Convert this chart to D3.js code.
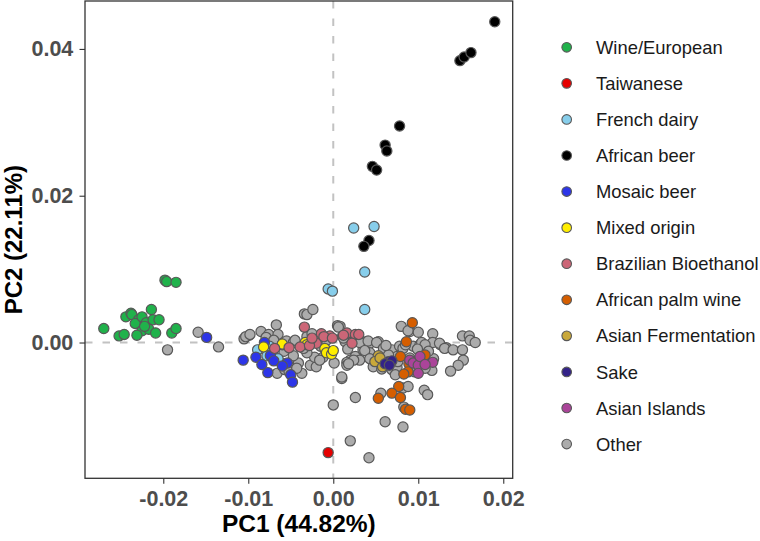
<!DOCTYPE html>
<html><head><meta charset="utf-8">
<script src="https://cdn.jsdelivr.net/npm/d3@7"></script>
<style>body{margin:0;background:#fff}</style></head>
<body><svg id="c" width="760" height="541"></svg>
<script>
// ---- categories / colours ----
const categories = ["Wine/European","Taiwanese","French dairy","African beer","Mosaic beer","Mixed origin","Brazilian Bioethanol","African palm wine","Asian Fermentation","Sake","Asian Islands","Other"];
const categoryColors = ["#20b24b","#e60000","#87ceeb","#000000","#2d35e8","#ffee00","#cc6677","#d55e00","#c9a83a","#332288","#aa4499","#acacac"];
const xTicks = [-0.02,-0.01,0.00,0.01,0.02];
const yTicks = [0.00,0.02,0.04];
const xTitle = "PC1 (44.82%)";
const yTitle = "PC2 (22.11%)";

// ---- series values [PC1, PC2] ----
const wineEuropean = [[-0.0198,0.0085],[-0.0196,0.0083],[-0.0185,0.0082],[-0.0270,0.0019],[-0.0252,0.0009],[-0.0246,0.0011],[-0.0244,0.0035],[-0.0238,0.0040],[-0.0237,0.0038],[-0.0214,0.0045],[-0.0229,0.0031],[-0.0233,0.0026],[-0.0225,0.0035],[-0.0220,0.0027],[-0.0212,0.0031],[-0.0205,0.0031],[-0.0225,0.0016],[-0.0217,0.0018],[-0.0231,0.0010],[-0.0209,0.0013],[-0.0190,0.0013],[-0.0185,0.0019],[-0.0222,0.0022]];
const taiwanese = [[-0.0006,-0.0150]];
const frenchDairy = [[0.0024,0.0156],[0.0048,0.0158],[0.0037,0.0096],[-0.0006,0.0073],[-0.0001,0.0070],[0.0037,0.0045],[-0.0089,-0.0010],[-0.0075,-0.0005],[-0.0065,-0.0022],[-0.0060,-0.0003],[-0.0078,-0.0018]];
const africanBeer = [[0.0190,0.0437],[0.0149,0.0384],[0.0154,0.0389],[0.0162,0.0395],[0.0078,0.0295],[0.0061,0.0269],[0.0063,0.0261],[0.0046,0.0240],[0.0051,0.0235],[0.0042,0.0139],[0.0036,0.0131]];
const mosaicBeer = [[-0.0149,0.0007],[-0.0106,-0.0024],[-0.0091,-0.0020],[-0.0084,-0.0030],[-0.0081,0.0000],[-0.0074,-0.0018],[-0.0077,-0.0041],[-0.0054,-0.0028],[-0.0050,-0.0044],[-0.0048,-0.0054],[-0.0070,-0.0025],[-0.0060,-0.0032]];
const mixedOrigin = [[-0.0033,0.0000],[-0.0031,-0.0003],[-0.0010,-0.0008],[-0.0008,-0.0014],[-0.0002,-0.0016],[0.0000,-0.0011],[-0.0082,-0.0006],[-0.0060,-0.0002]];
const brazilianBioethanol = [[-0.0034,0.0021],[-0.0014,0.0012],[-0.0004,0.0009],[-0.0020,-0.0001],[-0.0069,-0.0008],[-0.0052,-0.0007],[-0.0039,-0.0006],[-0.0028,-0.0004],[0.0016,0.0013],[0.0026,0.0011],[0.0030,0.0011],[0.0022,-0.0001],[-0.0011,0.0008],[-0.0001,0.0006],[0.0012,0.0010],[-0.0025,0.0006]];
const africanPalmWine = [[0.0093,0.0027],[0.0086,0.0001],[0.0079,-0.0019],[0.0089,-0.0029],[0.0088,-0.0040],[0.0108,-0.0017],[0.0077,-0.0060],[0.0069,-0.0069],[0.0079,-0.0075],[0.0053,-0.0076],[0.0085,-0.0091],[0.0090,-0.0092],[0.0083,-0.0043]];
const asianFermentation = [[0.0053,-0.0018],[0.0049,-0.0026],[0.0058,-0.0033],[0.0055,-0.0021]];
const sake = [[0.0065,-0.0026],[0.0061,-0.0029],[0.0069,-0.0025],[0.0066,-0.0031]];
const asianIslands = [[0.0090,-0.0024],[0.0094,-0.0028],[0.0100,-0.0031],[0.0100,-0.0042],[0.0117,-0.0027],[0.0102,-0.0019],[0.0108,-0.0030]];
const other = [[-0.0195,-0.0010],[-0.0159,0.0014],[-0.0135,-0.0006],[-0.0105,0.0005],[-0.0099,0.0010],
[-0.0103,0.0008],[-0.0098,0.0011],[-0.0085,0.0015],[-0.0076,0.0011],[-0.0067,0.0024],[-0.0065,0.0011],[-0.0055,0.0002],[-0.0047,0.0000],[-0.0045,0.0003],[-0.0034,0.0039],[-0.0031,0.0038],[-0.0024,0.0045],[-0.0031,0.0008],
[-0.0066,-0.0042],[-0.0057,-0.0037],[-0.0037,-0.0042],[-0.0041,-0.0028],[-0.0027,-0.0031],[-0.0020,-0.0033],[-0.0022,-0.0020],[-0.0012,-0.0020],[0.0001,-0.0028],[-0.0047,-0.0018],[-0.0031,-0.0014],[-0.0061,-0.0028],[-0.0071,-0.0010],[-0.0058,-0.0012],[-0.0052,-0.0040],[-0.0043,-0.0035],[-0.0079,0.0007],[-0.0070,0.0003],[-0.0035,-0.0008],[-0.0015,-0.0005],[-0.0008,0.0003],[-0.0025,0.0012],
[0.0005,0.0023],[0.0014,0.0012],[0.0008,0.0022],[0.0011,0.0009],[0.0014,0.0001],[0.0017,-0.0009],[0.0024,0.0004],[0.0026,-0.0019],[0.0020,-0.0024],[0.0016,-0.0027],[0.0039,0.0001],[0.0043,-0.0001],[0.0053,0.0001],[0.0035,-0.0010],[0.0043,-0.0014],[0.0031,-0.0024],[0.0069,-0.0010],[0.0075,-0.0019],[0.0078,-0.0005],[0.0080,0.0022],[0.0090,0.0015],[0.0069,-0.0037],[0.0075,-0.0034],[0.0010,-0.0049],[-0.0016,-0.0024],[0.0016,-0.0031],[0.0006,0.0021],[0.0012,0.0006],[0.0026,0.0006],[0.0031,0.0000],[0.0041,0.0002],[0.0051,0.0000],[0.0059,-0.0008],[0.0037,-0.0011],[0.0065,-0.0017],[0.0043,-0.0022],[0.0024,-0.0024],[0.0018,-0.0029],[0.0062,-0.0004],[0.0047,-0.0033],[0.0057,-0.0036],
[0.0088,0.0016],[0.0100,0.0014],[0.0117,0.0012],[0.0094,-0.0005],[0.0102,-0.0003],[0.0117,0.0000],[0.0104,0.0000],[0.0126,-0.0003],[0.0125,-0.0001],[0.0133,-0.0007],[0.0131,-0.0008],[0.0141,-0.0010],[0.0152,-0.0010],[0.0152,0.0009],[0.0160,0.0009],[0.0161,0.0003],[0.0167,0.0000],[0.0153,-0.0024],[0.0147,-0.0031],[0.0138,-0.0039],[0.0116,-0.0024],[0.0116,-0.0038],[0.0118,-0.0022],[0.0108,-0.0003],[0.0082,-0.0008],[0.0090,-0.0021],[0.0099,-0.0009],[0.0112,-0.0012],[0.0108,-0.0035],[0.0096,-0.0040],[0.0085,-0.0003],[0.0073,-0.0044],[0.0076,-0.0026],
[0.0107,-0.0065],[0.0111,-0.0071],[0.0082,-0.0062],[0.0088,-0.0060],[0.0056,-0.0069],[0.0026,-0.0075],[0.0010,-0.0047],[0.0000,-0.0085],[0.0061,-0.0108],[0.0082,-0.0115],[0.0020,-0.0134],[0.0042,-0.0157],[0.0083,-0.0088]];

const seriesValues = [wineEuropean,taiwanese,frenchDairy,africanBeer,mosaicBeer,mixedOrigin,brazilianBioethanol,africanPalmWine,asianFermentation,sake,asianIslands,other];

// ---- layout ----
const svg = d3.select("#c");
const P = {l:85, r:512.7, t:1, b:478.3};
const x = d3.scaleLinear().domain([-0.02921,0.02111]).range([P.l,P.r]);
const y = d3.scaleLinear().domain([-0.0185,0.04653]).range([P.b,P.t]);
const color = d3.scaleOrdinal().domain(categories).range(categoryColors);
const FONT = "'Liberation Sans', Arial, Helvetica, sans-serif";

// zero reference lines
svg.append("line").attr("x1",x(0)).attr("x2",x(0)).attr("y1",P.t).attr("y2",P.b)
  .attr("stroke","#c2c2c2").attr("stroke-width",2).attr("stroke-dasharray","7.5,10");
svg.append("line").attr("x1",P.l).attr("x2",P.r).attr("y1",y(0)).attr("y2",y(0))
  .attr("stroke","#c2c2c2").attr("stroke-width",2).attr("stroke-dasharray","7.5,10");

// points: Other first, then named groups
const order = [11,0,1,2,3,4,5,6,7,8,9,10];
const pts = [];
order.forEach(i => seriesValues[i].forEach(v => pts.push({cat:categories[i], x:v[0], y:v[1]})));
svg.append("g").selectAll("circle").data(pts).join("circle")
  .attr("cx",d=>x(d.x)).attr("cy",d=>y(d.y)).attr("r",5.1)
  .attr("fill",d=>color(d.cat)).attr("stroke","#585858").attr("stroke-width",1.2);

// panel border
svg.append("rect").attr("x",P.l).attr("y",P.t).attr("width",P.r-P.l).attr("height",P.b-P.t)
  .attr("fill","none").attr("stroke","#333").attr("stroke-width",1.3);

// axes
const xa = svg.append("g").attr("transform",`translate(0,${P.b})`)
  .call(d3.axisBottom(x).tickValues(xTicks).tickSize(5.5).tickPadding(6.5).tickFormat(d=>d.toFixed(2)));
const ya = svg.append("g").attr("transform",`translate(${P.l},0)`)
  .call(d3.axisLeft(y).tickValues(yTicks).tickSize(5.5).tickPadding(6.2).tickFormat(d=>d.toFixed(2)));
[xa,ya].forEach(a=>{
  a.select(".domain").remove();
  a.selectAll(".tick line").attr("stroke","#333").attr("stroke-width",1.1);
  a.selectAll(".tick text").attr("fill","#4d4d4d").attr("font-family",FONT)
   .attr("font-weight","bold").attr("font-size",21.5);
});

// axis titles
svg.append("text").attr("x",(P.l+P.r)/2).attr("y",532).attr("text-anchor","middle")
  .attr("font-family",FONT).attr("font-weight","bold").attr("font-size",24.5).attr("fill","#000").text(xTitle);
svg.append("text").attr("transform",`translate(22,${(P.t+P.b)/2}) rotate(-90)`).attr("text-anchor","middle")
  .attr("font-family",FONT).attr("font-weight","bold").attr("font-size",24).attr("fill","#000").text(yTitle);

// legend
const lg = svg.append("g").selectAll("g").data(categories).join("g")
  .attr("transform",(d,i)=>`translate(566.7,${47.3+i*36.07})`);
lg.append("circle").attr("r",4.8).attr("fill",d=>color(d)).attr("stroke","#585858").attr("stroke-width",1.1);
lg.append("text").attr("x",29.3).attr("dy","0.36em").attr("font-family",FONT).attr("font-size",18.4)
  .attr("fill","#1a1a1a").text(d=>d);
</script></body></html>
